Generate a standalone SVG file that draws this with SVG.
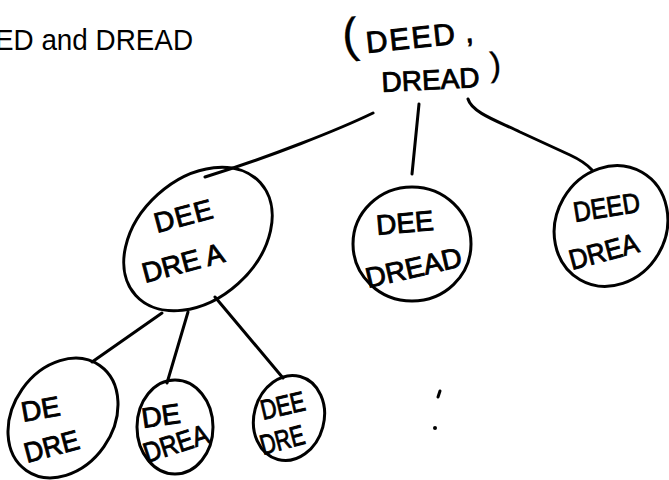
<svg xmlns="http://www.w3.org/2000/svg" width="669" height="480" viewBox="0 0 669 480">
<style>
.ln{fill:none;stroke:#000;stroke-width:3;stroke-linecap:round;stroke-linejoin:round}
.hw{font-family:"Liberation Sans",Arial,sans-serif;font-size:28px;fill:#000;stroke:#000;stroke-width:0.9}
.ttl{font-family:"Liberation Sans",Arial,sans-serif;font-size:29px;fill:#000}
</style>
<rect width="669" height="480" fill="#fff"/>
<text class="ttl" x="-5" y="50" textLength="198" lengthAdjust="spacingAndGlyphs">ED and DREAD</text>

<g id="connectors">
<path class="ln" d="M373,113 C340,129 270,157 205,177"/>
<path class="ln" d="M419,104 L412,174"/>
<path class="ln" d="M468,99 C472,113 500,122 520,132 L570,155 Q585,162 592,170"/>
<path class="ln" d="M162,313 L92,362"/>
<path class="ln" d="M188,312 L167,383"/>
<path class="ln" d="M215,297 L283,378"/>
</g>

<g id="root">
<text class="hw" transform="rotate(-6 367 53)"><tspan x="344" y="50" font-size="48" stroke-width="0.3">(</tspan><tspan x="367" y="53" font-size="30" letter-spacing="2">DEED</tspan><tspan dx="8" font-size="30">,</tspan></text>
<text class="hw" transform="rotate(-3 382 92)"><tspan x="382" y="92">DREAD</tspan><tspan x="491" y="82" font-size="34" stroke-width="0.3">)</tspan></text>
</g>

<g id="n-dee-drea">
<ellipse class="ln" cx="198" cy="239" rx="84" ry="60" transform="rotate(-42 198 239)"/>
<text class="hw" transform="rotate(-15 157 233)" x="157" y="233" letter-spacing="1">DEE</text>
<text class="hw" transform="rotate(-15 145 283)" x="145" y="283">DRE<tspan dx="6">A</tspan></text>
</g>

<g id="n-dee-dread">
<ellipse class="ln" cx="412" cy="244" rx="59" ry="57"/>
<text class="hw" transform="rotate(-5 377 235)" x="377" y="235">DEE</text>
<text class="hw" transform="rotate(-13 368 288)" x="368" y="288" font-size="26">DREAD</text>
</g>

<g id="n-deed-drea">
<ellipse class="ln" cx="611" cy="226" rx="62" ry="55" transform="rotate(-60 611 226)"/>
<text class="hw" transform="rotate(-9 575 222)" x="575" y="222" font-size="27" textLength="67" lengthAdjust="spacingAndGlyphs">DEED</text>
<text class="hw" transform="rotate(-15 572 270)" x="572" y="270" font-size="27" textLength="71" lengthAdjust="spacingAndGlyphs">DREA</text>
</g>

<g id="n-de-dre">
<ellipse class="ln" cx="63" cy="418" rx="64" ry="50" transform="rotate(-55 63 418)"/>
<text class="hw" transform="rotate(-10 23 422)" x="23" y="422">DE</text>
<text class="hw" transform="rotate(-15 27 463)" x="27" y="463" textLength="56" lengthAdjust="spacingAndGlyphs">DRE</text>
</g>

<g id="n-de-drea">
<ellipse class="ln" cx="175" cy="427" rx="38" ry="47"/>
<text class="hw" transform="rotate(-8 143 428)" x="143" y="428" font-size="27">DE</text>
<text class="hw" transform="rotate(-18 147 463)" x="147" y="463" font-size="26" textLength="67" lengthAdjust="spacingAndGlyphs">DREA</text>
</g>

<g id="n-dee-dre">
<ellipse class="ln" cx="289" cy="418" rx="35" ry="43" transform="rotate(15 289 418)"/>
<text class="hw" transform="rotate(-13 263 420)" x="263" y="420" font-size="24" textLength="45" lengthAdjust="spacingAndGlyphs">DEE</text>
<text class="hw" transform="rotate(-15 263 455)" x="263" y="455" font-size="25" textLength="45" lengthAdjust="spacingAndGlyphs">DRE</text>
</g>

<g id="ellipsis">
<path class="ln" d="M440,391 L438,397"/>
<circle cx="435" cy="428" r="2" fill="#000"/>
</g>
</svg>
